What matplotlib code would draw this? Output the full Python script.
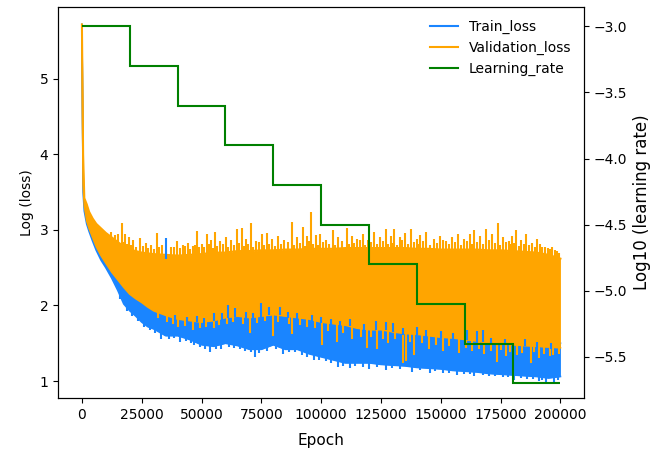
"""
Train / validation loss with the learning-rate schedule on a twin axis
"""

import matplotlib
matplotlib.use("Agg")
import matplotlib.pyplot as plt
from matplotlib.lines import Line2D

# Epoch grid for the loss envelopes
epochs = [0, 500, 1000, 2000, 3000, 4500, 6000, 8000, 10000, 12500, 15000,
          17500, 20000, 22500, 25000, 27500, 30000,
          35000, 40000, 45000, 50000, 55000, 60000, 65000, 70000, 75000, 80000,
          85000, 90000, 95000, 100000, 105000, 110000, 115000, 120000, 125000,
          130000, 135000, 140000, 145000, 150000, 155000, 160000, 165000,
          170000, 175000, 180000, 185000, 190000, 195000, 200000]

# Validation loss: dense band top / bottom
val_hi = [5.72, 4.00, 3.42, 3.34, 3.24, 3.15, 3.08, 3.02, 2.96, 2.90, 2.84,
          2.78, 2.74, 2.72, 2.70, 2.69, 2.68,
          2.67, 2.66, 2.67, 2.68, 2.70, 2.70, 2.72, 2.72, 2.73, 2.73,
          2.74, 2.74, 2.75, 2.75, 2.75, 2.76, 2.76, 2.76, 2.76,
          2.76, 2.76, 2.75, 2.75, 2.74, 2.74, 2.74, 2.74,
          2.73, 2.73, 2.72, 2.71, 2.70, 2.67, 2.62]
val_lo = [5.70, 3.60, 3.32, 3.12, 3.02, 2.90, 2.78, 2.66, 2.56, 2.44, 2.34,
          2.24, 2.15, 2.09, 2.04, 1.98, 1.93,
          1.87, 1.82, 1.80, 1.78, 1.80, 1.84, 1.86, 1.84, 1.86, 1.88,
          1.86, 1.84, 1.82, 1.78, 1.76, 1.74, 1.70, 1.68, 1.68,
          1.65, 1.63, 1.62, 1.60, 1.58, 1.57, 1.55, 1.53,
          1.50, 1.50, 1.48, 1.47, 1.46, 1.45, 1.44]

# Train loss: dense band top / bottom
train_hi = [5.72, 3.70, 3.38, 3.18, 3.08, 2.96, 2.84, 2.72, 2.62, 2.50, 2.40,
            2.30, 2.21, 2.15, 2.10, 2.04, 1.99,
            1.93, 1.88, 1.86, 1.84, 1.86, 1.90, 1.92, 1.90, 1.92, 1.94,
            1.92, 1.90, 1.88, 1.84, 1.82, 1.80, 1.76, 1.74, 1.74,
            1.71, 1.69, 1.68, 1.66, 1.64, 1.63, 1.61, 1.59,
            1.56, 1.56, 1.54, 1.53, 1.52, 1.51, 1.50]
train_lo = [5.70, 3.50, 3.25, 3.08, 2.98, 2.85, 2.73, 2.60, 2.50, 2.36, 2.20,
            2.02, 1.93, 1.86, 1.78, 1.72, 1.69,
            1.60, 1.60, 1.55, 1.48, 1.46, 1.50, 1.47, 1.42, 1.42, 1.48,
            1.42, 1.42, 1.36, 1.32, 1.28, 1.24, 1.24, 1.24, 1.22,
            1.21, 1.20, 1.18, 1.17, 1.16, 1.14, 1.13, 1.12,
            1.10, 1.09, 1.08, 1.07, 1.06, 1.04, 1.06]

# Validation spikes above the band (tall ones)
val_spike_ep = [12000, 13800, 15200,
                16700, 18000, 19600, 21300, 24200, 26700, 28800, 31300, 33400, 37200,
                39700, 42200, 44300, 46300, 48000, 50100, 52200, 53900, 55500, 57600,
                60100, 62200, 64700, 66800, 68500, 70600, 72600, 75200, 77200, 79300,
                81800, 84300, 87700, 89800, 92300, 93900, 95600, 97700, 99400, 101900,
                104800, 106900, 110600, 112700, 114800, 117300, 119400, 121900, 124400, 126900,
                129000, 130300, 132800, 134900, 137400, 139900, 141500, 144000, 147000, 149500,
                152000, 154500, 157000, 159500, 162000, 163700, 166200, 169100, 171200, 173700,
                175800, 178300, 179900, 181600, 183700, 185800, 188300, 190400, 192500, 194600,
                196600, 198700]
val_spike_hi = [2.97, 2.93, 2.95,
                3.09, 2.95, 2.91, 2.86, 2.89, 2.83, 2.80, 2.96, 2.80, 2.78,
                2.85, 2.80, 2.83, 2.79, 2.99, 2.82, 2.94, 2.86, 2.97, 2.85,
                2.90, 2.86, 3.01, 3.02, 2.88, 3.09, 2.85, 2.94, 2.96, 2.88,
                2.92, 2.86, 3.10, 2.90, 3.04, 2.92, 3.24, 2.93, 2.95, 2.87,
                3.00, 2.90, 3.03, 2.92, 2.88, 2.95, 2.86, 2.97, 2.90, 3.01,
                2.92, 3.01, 2.90, 2.96, 3.01, 2.88, 2.93, 2.97, 2.88, 2.92,
                2.85, 2.90, 2.95, 2.88, 2.94, 3.00, 2.92, 3.01, 2.95, 3.09,
                2.90, 2.85, 2.92, 3.00, 2.87, 2.95, 2.83, 2.88, 2.78, 2.76,
                2.78, 2.72]

# Validation spikes above the band (short ones, in between)
val_spike2_ep = [17350, 18800, 20450, 22750, 25450, 27750, 30050, 32350, 35300, 38450,
                 40950, 43250, 45300, 47150, 49050, 51150, 53050, 54700, 56550, 58850,
                 61150, 63450, 65750, 67650, 69550, 71600, 73900, 76200, 78250, 80550,
                 83050, 86000, 88750, 91050, 93100, 94750, 96650, 98550, 100650, 103350,
                 105850, 108750, 111650, 113750, 116050, 118350, 120650, 123150, 125650, 127950,
                 129650, 131550, 133850, 136150, 138650, 140700, 142750, 145500, 148250, 150750,
                 153250, 155750, 158250, 160750, 162850, 164950, 167650, 170150, 172450, 174750,
                 177050, 179100, 180750, 182650, 184750, 187050, 189350, 191450, 193550, 195600,
                 197650, 199500]
val_spike2_hi = [2.84, 2.82, 2.80, 2.78, 2.79, 2.76, 2.75, 2.78, 2.74, 2.77,
                 2.76, 2.79, 2.75, 2.80, 2.77, 2.78, 2.81, 2.76, 2.79, 2.82,
                 2.78, 2.80, 2.83, 2.79, 2.81, 2.78, 2.84, 2.80, 2.82, 2.79,
                 2.81, 2.84, 2.80, 2.83, 2.79, 2.85, 2.81, 2.80, 2.84, 2.82,
                 2.80, 2.85, 2.81, 2.83, 2.86, 2.80, 2.84, 2.82, 2.85, 2.81,
                 2.83, 2.80, 2.86, 2.82, 2.84, 2.81, 2.85, 2.80, 2.83, 2.86,
                 2.81, 2.84, 2.80, 2.85, 2.82, 2.84, 2.81, 2.86, 2.83, 2.80,
                 2.84, 2.81, 2.83, 2.79, 2.82, 2.80, 2.78, 2.81, 2.77, 2.75,
                 2.73, 2.70]

# Validation dips below the band
val_dip_ep = [40000, 46300, 55100, 70100, 79700, 88000, 100200, 106500, 113000, 119000,
              123200, 128000, 134000, 135300, 139000, 145000, 151000, 157800, 163000, 168000,
              173300, 177400, 182000, 187900, 191000, 195500,
              32000, 35500, 38000, 43000, 49500, 52000, 57500, 60500, 63000, 67500,
              73000, 76500, 82000, 86500, 91000, 94000, 97500, 103000, 109000, 116500,
              121000, 126000, 131000, 137000, 142000, 148000, 153500, 160500, 166000, 171000,
              175000, 179000, 184000, 189000, 193000, 197000, 199500]
val_dip_lo = [1.72, 1.68, 1.70, 1.64, 1.60, 1.62, 1.48, 1.52, 1.55, 1.44,
              1.42, 1.50, 1.24, 1.26, 1.34, 1.42, 1.40, 1.37, 1.40, 1.36,
              1.25, 1.33, 1.35, 1.24, 1.30, 1.33,
              1.84, 1.78, 1.76, 1.73, 1.70, 1.72, 1.74, 1.76, 1.78, 1.75,
              1.77, 1.80, 1.78, 1.76, 1.74, 1.72, 1.70, 1.66, 1.64, 1.58,
              1.58, 1.56, 1.55, 1.52, 1.50, 1.48, 1.46, 1.44, 1.42, 1.40,
              1.41, 1.38, 1.37, 1.38, 1.36, 1.35, 1.36]

# Train dips below the band
train_dip_ep = [16000, 19000, 21000, 23500, 26000, 28500, 30500,
                33000, 41000, 47000, 53400, 58000, 66000, 72200, 84000, 92000, 97000,
                106900, 112000, 120000, 127000, 138000, 145300, 151000, 156600, 164000, 170000,
                176000, 180500, 186000, 191000, 194100, 197500,
                36500, 38500, 43500, 45500, 49500, 51500, 56000, 61500, 63500, 68000,
                70500, 74000, 77500, 81000, 86500, 89000, 94000, 99000, 102000, 104000,
                109000, 114000, 117500, 123500, 129500, 133000, 141500, 147500, 153500, 159500,
                162000, 167500, 172500, 178000, 183500, 188500, 192500, 199000]
train_dip_lo = [2.08, 1.93, 1.86, 1.79, 1.72, 1.68, 1.64,
                1.55, 1.52, 1.48, 1.38, 1.42, 1.42, 1.32, 1.36, 1.35, 1.28,
                1.19, 1.17, 1.16, 1.15, 1.12, 1.10, 1.11, 1.08, 1.07, 1.06,
                1.05, 1.02, 1.03, 1.00, 0.98, 0.97,
                1.56, 1.57, 1.53, 1.50, 1.45, 1.43, 1.42, 1.45, 1.44, 1.40,
                1.38, 1.37, 1.40, 1.43, 1.38, 1.38, 1.32, 1.28, 1.26, 1.24,
                1.20, 1.20, 1.19, 1.18, 1.17, 1.16, 1.14, 1.13, 1.11, 1.09,
                1.09, 1.08, 1.06, 1.05, 1.04, 1.03, 1.01, 1.02]

# Train peaks poking out above the validation band
train_peak_ep = [35000, 48000, 55000, 61000, 64000, 75000, 78000, 82700, 100000, 112000,
                 123000, 127000, 130000, 140000, 150000, 161000, 165000, 167500, 185000,
                 39000, 44000, 51000, 58500, 68500, 71500, 86000, 90000, 96000, 104000,
                 108000, 118000, 134000, 144000, 155000, 171000, 177000, 190000, 196000]
train_peak_lo = [2.62, 1.78, 1.79, 1.83, 1.85, 1.85, 1.87, 1.87, 1.77, 1.73,
                 1.67, 1.67, 1.65, 1.61, 1.57, 1.54, 1.52, 1.52, 1.46,
                 1.80, 1.78, 1.76, 1.80, 1.83, 1.82, 1.84, 1.82, 1.80, 1.74,
                 1.73, 1.67, 1.61, 1.58, 1.55, 1.48, 1.48, 1.44, 1.43]
train_peak_hi = [2.89, 1.86, 1.90, 2.00, 1.96, 2.03, 1.98, 1.98, 1.85, 1.82,
                 1.80, 1.78, 1.77, 1.72, 1.66, 1.68, 1.66, 1.68, 1.55,
                 1.88, 1.85, 1.83, 1.90, 1.92, 1.90, 1.92, 1.90, 1.87, 1.82,
                 1.80, 1.76, 1.70, 1.67, 1.63, 1.57, 1.56, 1.52, 1.50]

# Learning rate schedule (log10), one level per 20000 epochs
lr_edges = [0, 20000, 40000, 60000, 80000, 100000, 120000, 140000, 160000, 180000, 200000]
lr_log10 = [-3.0, -3.3, -3.6, -3.9, -4.2, -4.5, -4.8, -5.1, -5.4, -5.7]

TRAIN_C = "#1a85ff"
VAL_C = "orange"
LR_C = "green"


def main():
    fig = plt.figure(figsize=(6.59, 4.54), dpi=100)
    ax = fig.add_axes([0.088, 0.1233, 0.798, 0.8612])

    # train loss band (its top is hidden under the validation band)
    ax.fill_between(epochs, train_lo, train_hi, color=TRAIN_C, lw=0, zorder=1)
    ax.plot(epochs, train_lo, color=TRAIN_C, lw=1.2, zorder=1)
    ax.plot(epochs, train_hi, color=TRAIN_C, lw=1.2, zorder=1)
    ax.vlines(train_dip_ep, train_dip_lo, 2.5, color=TRAIN_C, lw=1.5, zorder=1)

    # validation loss band
    ax.fill_between(epochs, val_lo, val_hi, color=VAL_C, lw=0, zorder=2)
    ax.plot(epochs, val_lo, color=VAL_C, lw=1.2, zorder=2)
    ax.plot(epochs, val_hi, color=VAL_C, lw=1.5, zorder=2)
    ax.vlines(val_spike_ep, 2.5, val_spike_hi, color=VAL_C, lw=1.5, zorder=2)
    ax.vlines(val_spike2_ep, 2.5, val_spike2_hi, color=VAL_C, lw=1.5, zorder=2)
    ax.vlines(val_dip_ep, val_dip_lo, 2.3, color=VAL_C, lw=1.5, zorder=2)

    ax.vlines(train_peak_ep, train_peak_lo, train_peak_hi, color=TRAIN_C, lw=1.5, zorder=3)

    ax.set_xlim(-10000, 209800)
    ax.set_ylim(0.775, 5.95)
    ax.set_xlabel("Epoch", fontsize=11, labelpad=8)
    ax.set_ylabel("Log (loss)")

    # learning rate on the right axis
    ax2 = ax.twinx()
    ax2.stairs(lr_log10, lr_edges, baseline=None, color=LR_C, lw=1.5)
    ax2.set_ylim(-5.812, -2.854)
    ax2.set_ylabel("Log10 (learning rate)", fontsize=12)

    handles = [Line2D([], [], color=TRAIN_C, lw=1.5),
               Line2D([], [], color=VAL_C, lw=1.5),
               Line2D([], [], color=LR_C, lw=1.5)]
    ax2.legend(handles, ["Train_loss", "Validation_loss", "Learning_rate"],
               loc="upper right", frameon=False)

    fig.savefig("out.png", dpi=100)
    plt.close(fig)


if __name__ == "__main__":
    main()
